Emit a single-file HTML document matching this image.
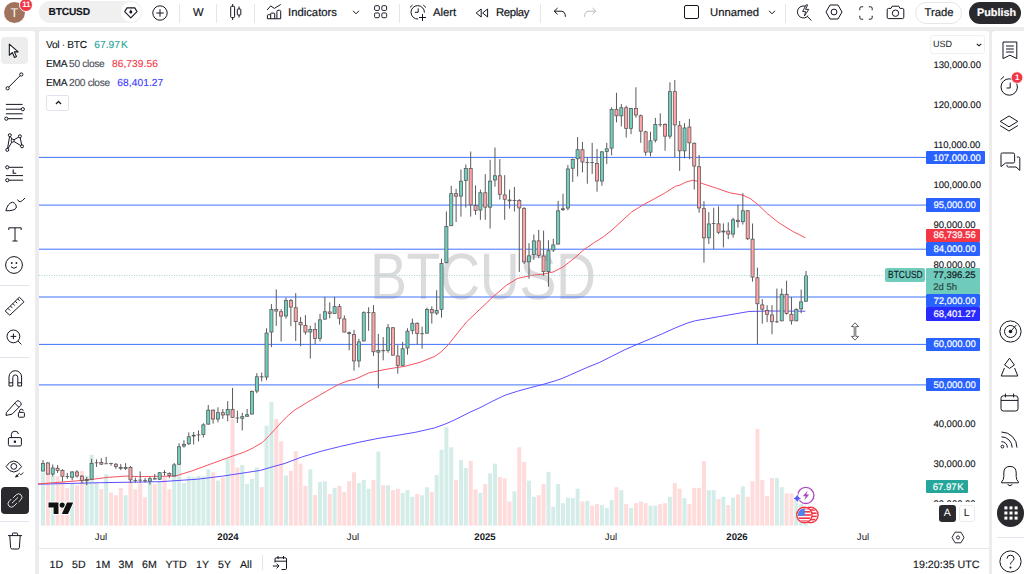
<!DOCTYPE html>
<html><head><meta charset="utf-8">
<style>
*{box-sizing:border-box;margin:0;padding:0}
html,body{width:1024px;height:574px;overflow:hidden}
body{text-rendering:geometricPrecision;background:#ececec;font-family:"Liberation Sans",sans-serif;color:#131722;position:relative}
.abs{position:absolute}
#top{left:0;top:0;width:1024px;height:26.8px;background:#fff}
#left{left:0;top:30.8px;width:35.3px;height:544px;background:#fff;border-top-right-radius:3px}
#chart{left:39px;top:30.8px;width:949.5px;height:544px;background:#fff;border-top-left-radius:3px;border-top-right-radius:3px}
#right{left:991.6px;top:30.8px;width:33px;height:544px;background:#fff;border-top-left-radius:3px}
.t{position:absolute;white-space:nowrap;line-height:1}
.tb{font-size:11.3px;color:#131722;-webkit-text-stroke:0.2px currentColor;margin-top:1.2px}
.sep{position:absolute;width:1px;background:#e6e6e8;top:3.5px;height:19px}
.pl{position:absolute;left:926.2px;width:53.6px;height:13.6px;color:#fff;font-size:9.5px;line-height:16px;padding-left:7px;-webkit-text-stroke:0.2px currentColor;border-radius:1px}
.pt{-webkit-text-stroke:0.15px #131722;position:absolute;left:933.4px;font-size:9.5px;line-height:1;color:#131722}
.lg{font-size:10.2px;letter-spacing:-0.32px;-webkit-text-stroke:0.12px currentColor}
.lg .v{margin-left:7.5px;letter-spacing:0.08px}
.tx{position:absolute;font-size:9.6px;line-height:1;color:#131722;transform:translateX(-50%);top:532.6px}
.bb{position:absolute;font-size:10.6px;line-height:1;top:559.9px;-webkit-text-stroke:0.15px #131722;color:#131722}
svg{position:absolute;overflow:visible}
#wrap{position:absolute;left:0;top:0;width:1024px;height:574px;}
</style></head><body><div id="wrap">
<div id="top" class="abs"></div>
<div id="left" class="abs"></div>
<div id="chart" class="abs"></div>
<div id="right" class="abs"></div>

<!-- watermark -->
<div class="t" style="left:369.5px;top:244px;font-size:65.7px;color:#dbdbde;letter-spacing:-0.5px;transform-origin:0 0;transform:scaleX(0.845)">BTCUSD</div>

<svg width="1024" height="574" style="left:0;top:0" viewBox="0 0 1024 574">
<rect x="41.00" y="472.4" width="4.0" height="53.2" fill="#d4ede9"/>
<rect x="45.86" y="473.9" width="4.0" height="51.7" fill="#fddcdb"/>
<rect x="50.72" y="475.8" width="4.0" height="49.8" fill="#d4ede9"/>
<rect x="55.58" y="476.4" width="4.0" height="49.2" fill="#fddcdb"/>
<rect x="60.44" y="481.2" width="4.0" height="44.4" fill="#fddcdb"/>
<rect x="65.30" y="488.0" width="4.0" height="37.6" fill="#fddcdb"/>
<rect x="70.16" y="483.3" width="4.0" height="42.3" fill="#d4ede9"/>
<rect x="75.02" y="485.2" width="4.0" height="40.4" fill="#fddcdb"/>
<rect x="79.88" y="470.8" width="4.0" height="54.8" fill="#fddcdb"/>
<rect x="84.74" y="475.8" width="4.0" height="49.8" fill="#d4ede9"/>
<rect x="89.60" y="454.8" width="4.0" height="70.8" fill="#d4ede9"/>
<rect x="94.46" y="482.7" width="4.0" height="42.9" fill="#d4ede9"/>
<rect x="99.32" y="489.2" width="4.0" height="36.4" fill="#fddcdb"/>
<rect x="104.18" y="474.2" width="4.0" height="51.4" fill="#d4ede9"/>
<rect x="109.04" y="492.5" width="4.0" height="33.1" fill="#fddcdb"/>
<rect x="113.90" y="495.2" width="4.0" height="30.4" fill="#fddcdb"/>
<rect x="118.76" y="488.0" width="4.0" height="37.6" fill="#fddcdb"/>
<rect x="123.62" y="495.2" width="4.0" height="30.4" fill="#d4ede9"/>
<rect x="128.48" y="481.4" width="4.0" height="44.2" fill="#fddcdb"/>
<rect x="133.34" y="489.2" width="4.0" height="36.4" fill="#fddcdb"/>
<rect x="138.20" y="483.3" width="4.0" height="42.3" fill="#fddcdb"/>
<rect x="143.06" y="497.5" width="4.0" height="28.1" fill="#fddcdb"/>
<rect x="147.92" y="482.7" width="4.0" height="42.9" fill="#d4ede9"/>
<rect x="152.78" y="484.2" width="4.0" height="41.4" fill="#fddcdb"/>
<rect x="157.64" y="481.4" width="4.0" height="44.2" fill="#d4ede9"/>
<rect x="162.50" y="476.7" width="4.0" height="48.9" fill="#fddcdb"/>
<rect x="167.36" y="489.2" width="4.0" height="36.4" fill="#fddcdb"/>
<rect x="172.22" y="476.0" width="4.0" height="49.6" fill="#d4ede9"/>
<rect x="177.08" y="464.8" width="4.0" height="60.8" fill="#d4ede9"/>
<rect x="181.94" y="483.0" width="4.0" height="42.6" fill="#d4ede9"/>
<rect x="186.80" y="476.3" width="4.0" height="49.3" fill="#d4ede9"/>
<rect x="191.66" y="477.3" width="4.0" height="48.3" fill="#d4ede9"/>
<rect x="196.52" y="475.8" width="4.0" height="49.8" fill="#d4ede9"/>
<rect x="201.38" y="476.3" width="4.0" height="49.3" fill="#d4ede9"/>
<rect x="206.24" y="469.2" width="4.0" height="56.4" fill="#d4ede9"/>
<rect x="211.10" y="472.3" width="4.0" height="53.3" fill="#fddcdb"/>
<rect x="215.96" y="480.5" width="4.0" height="45.1" fill="#d4ede9"/>
<rect x="220.82" y="477.3" width="4.0" height="48.3" fill="#fddcdb"/>
<rect x="225.68" y="458.8" width="4.0" height="66.8" fill="#d4ede9"/>
<rect x="230.54" y="418.8" width="4.0" height="106.8" fill="#fddcdb"/>
<rect x="235.40" y="467.5" width="4.0" height="58.1" fill="#fddcdb"/>
<rect x="240.26" y="465.0" width="4.0" height="60.6" fill="#d4ede9"/>
<rect x="245.12" y="483.9" width="4.0" height="41.7" fill="#d4ede9"/>
<rect x="249.98" y="478.8" width="4.0" height="46.8" fill="#d4ede9"/>
<rect x="254.84" y="467.5" width="4.0" height="58.1" fill="#d4ede9"/>
<rect x="259.70" y="487.1" width="4.0" height="38.5" fill="#fddcdb"/>
<rect x="264.56" y="425.7" width="4.0" height="99.9" fill="#d4ede9"/>
<rect x="269.42" y="401.9" width="4.0" height="123.7" fill="#d4ede9"/>
<rect x="274.28" y="419.1" width="4.0" height="106.5" fill="#fddcdb"/>
<rect x="279.14" y="441.2" width="4.0" height="84.4" fill="#fddcdb"/>
<rect x="284.00" y="475.5" width="4.0" height="50.1" fill="#d4ede9"/>
<rect x="288.86" y="470.8" width="4.0" height="54.8" fill="#fddcdb"/>
<rect x="293.72" y="451.1" width="4.0" height="74.5" fill="#fddcdb"/>
<rect x="298.58" y="463.7" width="4.0" height="61.9" fill="#fddcdb"/>
<rect x="303.44" y="485.9" width="4.0" height="39.7" fill="#fddcdb"/>
<rect x="308.30" y="469.3" width="4.0" height="56.3" fill="#d4ede9"/>
<rect x="313.16" y="494.9" width="4.0" height="30.7" fill="#fddcdb"/>
<rect x="318.02" y="482.1" width="4.0" height="43.5" fill="#d4ede9"/>
<rect x="322.88" y="481.2" width="4.0" height="44.4" fill="#d4ede9"/>
<rect x="327.74" y="494.0" width="4.0" height="31.6" fill="#fddcdb"/>
<rect x="332.60" y="487.8" width="4.0" height="37.8" fill="#d4ede9"/>
<rect x="337.46" y="485.9" width="4.0" height="39.7" fill="#fddcdb"/>
<rect x="342.32" y="491.9" width="4.0" height="33.7" fill="#fddcdb"/>
<rect x="347.18" y="481.2" width="4.0" height="44.4" fill="#fddcdb"/>
<rect x="352.04" y="472.3" width="4.0" height="53.3" fill="#fddcdb"/>
<rect x="356.90" y="483.1" width="4.0" height="42.5" fill="#d4ede9"/>
<rect x="361.76" y="479.9" width="4.0" height="45.7" fill="#d4ede9"/>
<rect x="366.62" y="488.7" width="4.0" height="36.9" fill="#d4ede9"/>
<rect x="371.48" y="479.9" width="4.0" height="45.7" fill="#fddcdb"/>
<rect x="376.34" y="451.6" width="4.0" height="74.0" fill="#d4ede9"/>
<rect x="381.20" y="485.3" width="4.0" height="40.3" fill="#fddcdb"/>
<rect x="386.06" y="485.3" width="4.0" height="40.3" fill="#d4ede9"/>
<rect x="390.92" y="490.0" width="4.0" height="35.6" fill="#fddcdb"/>
<rect x="395.78" y="488.7" width="4.0" height="36.9" fill="#fddcdb"/>
<rect x="400.64" y="493.0" width="4.0" height="32.6" fill="#d4ede9"/>
<rect x="405.50" y="490.2" width="4.0" height="35.4" fill="#d4ede9"/>
<rect x="410.36" y="496.8" width="4.0" height="28.8" fill="#d4ede9"/>
<rect x="415.22" y="494.0" width="4.0" height="31.6" fill="#fddcdb"/>
<rect x="420.08" y="495.3" width="4.0" height="30.3" fill="#d4ede9"/>
<rect x="424.94" y="487.2" width="4.0" height="38.4" fill="#d4ede9"/>
<rect x="429.80" y="491.9" width="4.0" height="33.7" fill="#fddcdb"/>
<rect x="434.66" y="475.0" width="4.0" height="50.6" fill="#d4ede9"/>
<rect x="439.52" y="449.7" width="4.0" height="75.9" fill="#d4ede9"/>
<rect x="444.38" y="427.2" width="4.0" height="98.4" fill="#d4ede9"/>
<rect x="449.24" y="447.3" width="4.0" height="78.3" fill="#d4ede9"/>
<rect x="454.10" y="479.9" width="4.0" height="45.7" fill="#fddcdb"/>
<rect x="458.96" y="460.1" width="4.0" height="65.5" fill="#d4ede9"/>
<rect x="463.82" y="468.0" width="4.0" height="57.6" fill="#d4ede9"/>
<rect x="468.68" y="461.0" width="4.0" height="64.6" fill="#fddcdb"/>
<rect x="473.54" y="489.3" width="4.0" height="36.3" fill="#fddcdb"/>
<rect x="478.40" y="492.8" width="4.0" height="32.8" fill="#d4ede9"/>
<rect x="483.26" y="484.0" width="4.0" height="41.6" fill="#fddcdb"/>
<rect x="488.12" y="473.3" width="4.0" height="52.3" fill="#d4ede9"/>
<rect x="492.98" y="463.7" width="4.0" height="61.9" fill="#d4ede9"/>
<rect x="497.84" y="477.0" width="4.0" height="48.6" fill="#fddcdb"/>
<rect x="502.70" y="478.4" width="4.0" height="47.2" fill="#fddcdb"/>
<rect x="507.56" y="501.5" width="4.0" height="24.1" fill="#fddcdb"/>
<rect x="512.42" y="491.2" width="4.0" height="34.4" fill="#d4ede9"/>
<rect x="517.28" y="447.3" width="4.0" height="78.3" fill="#fddcdb"/>
<rect x="522.14" y="461.8" width="4.0" height="63.8" fill="#fddcdb"/>
<rect x="527.00" y="480.6" width="4.0" height="45.0" fill="#d4ede9"/>
<rect x="531.86" y="496.8" width="4.0" height="28.8" fill="#d4ede9"/>
<rect x="536.72" y="495.3" width="4.0" height="30.3" fill="#fddcdb"/>
<rect x="541.58" y="484.0" width="4.0" height="41.6" fill="#fddcdb"/>
<rect x="546.44" y="471.8" width="4.0" height="53.8" fill="#d4ede9"/>
<rect x="551.30" y="506.6" width="4.0" height="19.0" fill="#d4ede9"/>
<rect x="556.16" y="484.0" width="4.0" height="41.6" fill="#d4ede9"/>
<rect x="561.02" y="503.2" width="4.0" height="22.4" fill="#d4ede9"/>
<rect x="565.88" y="497.6" width="4.0" height="28.0" fill="#d4ede9"/>
<rect x="570.74" y="498.1" width="4.0" height="27.5" fill="#d4ede9"/>
<rect x="575.60" y="488.7" width="4.0" height="36.9" fill="#d4ede9"/>
<rect x="580.46" y="501.5" width="4.0" height="24.1" fill="#fddcdb"/>
<rect x="585.32" y="500.9" width="4.0" height="24.7" fill="#d4ede9"/>
<rect x="590.18" y="505.6" width="4.0" height="20.0" fill="#fddcdb"/>
<rect x="595.04" y="504.1" width="4.0" height="21.5" fill="#fddcdb"/>
<rect x="599.90" y="505.1" width="4.0" height="20.5" fill="#d4ede9"/>
<rect x="604.76" y="508.1" width="4.0" height="17.5" fill="#d4ede9"/>
<rect x="609.62" y="500.0" width="4.0" height="25.6" fill="#d4ede9"/>
<rect x="614.48" y="487.2" width="4.0" height="38.4" fill="#fddcdb"/>
<rect x="619.34" y="490.2" width="4.0" height="35.4" fill="#d4ede9"/>
<rect x="624.20" y="504.1" width="4.0" height="21.5" fill="#fddcdb"/>
<rect x="629.06" y="508.1" width="4.0" height="17.5" fill="#d4ede9"/>
<rect x="633.92" y="503.2" width="4.0" height="22.4" fill="#fddcdb"/>
<rect x="638.78" y="501.5" width="4.0" height="24.1" fill="#fddcdb"/>
<rect x="643.64" y="503.2" width="4.0" height="22.4" fill="#fddcdb"/>
<rect x="648.50" y="505.6" width="4.0" height="20.0" fill="#d4ede9"/>
<rect x="653.36" y="505.6" width="4.0" height="20.0" fill="#d4ede9"/>
<rect x="658.22" y="504.1" width="4.0" height="21.5" fill="#fddcdb"/>
<rect x="663.08" y="503.2" width="4.0" height="22.4" fill="#fddcdb"/>
<rect x="667.94" y="496.8" width="4.0" height="28.8" fill="#d4ede9"/>
<rect x="672.80" y="483.1" width="4.0" height="42.5" fill="#fddcdb"/>
<rect x="677.66" y="488.7" width="4.0" height="36.9" fill="#fddcdb"/>
<rect x="682.52" y="498.1" width="4.0" height="27.5" fill="#d4ede9"/>
<rect x="687.38" y="504.1" width="4.0" height="21.5" fill="#fddcdb"/>
<rect x="692.24" y="487.8" width="4.0" height="37.8" fill="#fddcdb"/>
<rect x="697.10" y="487.8" width="4.0" height="37.8" fill="#fddcdb"/>
<rect x="701.96" y="461.0" width="4.0" height="64.6" fill="#fddcdb"/>
<rect x="706.82" y="490.2" width="4.0" height="35.4" fill="#d4ede9"/>
<rect x="711.68" y="490.2" width="4.0" height="35.4" fill="#d4ede9"/>
<rect x="716.54" y="499.1" width="4.0" height="26.5" fill="#fddcdb"/>
<rect x="721.40" y="496.8" width="4.0" height="28.8" fill="#d4ede9"/>
<rect x="726.26" y="505.1" width="4.0" height="20.5" fill="#fddcdb"/>
<rect x="731.12" y="497.6" width="4.0" height="28.0" fill="#d4ede9"/>
<rect x="735.98" y="494.4" width="4.0" height="31.2" fill="#fddcdb"/>
<rect x="740.84" y="486.3" width="4.0" height="39.3" fill="#d4ede9"/>
<rect x="745.70" y="496.8" width="4.0" height="28.8" fill="#fddcdb"/>
<rect x="750.56" y="481.2" width="4.0" height="44.4" fill="#fddcdb"/>
<rect x="755.42" y="429.0" width="4.0" height="96.6" fill="#fddcdb"/>
<rect x="760.28" y="479.9" width="4.0" height="45.7" fill="#fddcdb"/>
<rect x="765.14" y="495.9" width="4.0" height="29.7" fill="#fddcdb"/>
<rect x="770.00" y="478.0" width="4.0" height="47.6" fill="#fddcdb"/>
<rect x="774.86" y="478.0" width="4.0" height="47.6" fill="#d4ede9"/>
<rect x="779.72" y="487.2" width="4.0" height="38.4" fill="#d4ede9"/>
<rect x="784.58" y="493.4" width="4.0" height="32.2" fill="#fddcdb"/>
<rect x="789.44" y="493.4" width="4.0" height="32.2" fill="#fddcdb"/>
<rect x="794.30" y="498.0" width="4.0" height="27.6" fill="#d4ede9"/>
<rect x="799.16" y="504.0" width="4.0" height="21.6" fill="#d4ede9"/>
<rect x="804.02" y="520.0" width="4.0" height="5.6" fill="#d4ede9"/>
<line x1="39" x2="926" y1="157.40" y2="157.40" stroke="#2962ff" stroke-width="0.9"/>
<line x1="39" x2="926" y1="205.10" y2="205.10" stroke="#2962ff" stroke-width="0.9"/>
<line x1="39" x2="926" y1="249.20" y2="249.20" stroke="#2962ff" stroke-width="0.9"/>
<line x1="39" x2="926" y1="297.00" y2="297.00" stroke="#2962ff" stroke-width="0.9"/>
<line x1="39" x2="926" y1="344.40" y2="344.40" stroke="#2962ff" stroke-width="0.9"/>
<line x1="39" x2="926" y1="384.90" y2="384.90" stroke="#2962ff" stroke-width="0.9"/>
<path d="M38.0,484.2 L100.7,482.7 L160.0,481.7 L197.6,479.2 L222.7,476.1 L247.8,472.3 L260.4,470.4 L272.9,466.7 L284.0,463.7 L302.8,456.7 L321.6,451.1 L340.5,446.4 L359.3,442.2 L378.1,438.4 L396.9,435.4 L415.8,432.2 L434.6,427.9 L445.9,423.8 L454.4,420.0 L470.4,412.0 L480.0,407.7 L492.5,401.2 L505.1,395.2 L517.6,391.2 L530.2,387.7 L542.7,384.5 L555.3,380.8 L562.8,378.2 L574.1,373.2 L586.7,367.6 L599.2,362.6 L612.5,355.9 L625.1,349.6 L637.6,344.2 L650.2,338.9 L662.7,333.6 L675.3,327.9 L687.8,322.9 L695.4,320.7 L706.7,318.8 L719.2,316.6 L728.0,315.1 L748.8,311.5 L770.0,311.0 L805.3,311.2" fill="none" stroke="#5545ff" stroke-width="0.95" stroke-linejoin="round"/>
<path d="M38.0,483.9 L63.1,482.0 L88.2,479.9 L107.0,477.4 L125.8,476.1 L138.4,476.6 L160.0,476.3 L175.0,476.1 L191.4,471.1 L210.2,464.2 L232.8,456.0 L244.5,452.0 L253.3,447.8 L262.1,442.7 L269.6,435.2 L275.9,428.3 L282.2,421.4 L288.5,415.1 L294.7,410.1 L307.3,402.3 L319.8,395.1 L332.4,387.8 L338.7,384.4 L347.4,381.0 L355.4,379.1 L368.8,372.9 L385.0,369.5 L397.6,367.4 L405.0,366.3 L420.0,362.3 L435.0,356.3 L441.0,351.9 L448.5,344.6 L452.0,340.0 L466.5,322.0 L492.8,297.0 L506.5,285.2 L517.8,278.3 L531.6,275.4 L544.2,273.9 L553.0,272.0 L563.0,267.0 L574.3,258.2 L584.3,249.4 L594.4,242.5 L603.2,236.9 L612.0,230.0 L631.6,212.0 L642.8,205.0 L654.1,199.0 L665.4,192.7 L675.5,186.2 L680.0,185.1 L686.0,182.0 L692.5,180.3 L697.0,181.0 L701.3,183.2 L717.6,188.6 L730.2,192.9 L742.7,195.1 L750.3,198.6 L757.8,204.5 L767.8,214.0 L777.9,222.1 L792.9,231.5 L805.4,237.8" fill="none" stroke="#f7525f" stroke-width="1" stroke-linejoin="round"/>
<line x1="43.00" x2="43.00" y1="460.1" y2="471.4" stroke="#5a5a5a" stroke-width="1"/>
<rect x="41.45" y="463.35" width="3.1" height="7.70" fill="#6fd0bf" stroke="#555555" stroke-width="0.75"/>
<line x1="47.86" x2="47.86" y1="462.0" y2="474.9" stroke="#5a5a5a" stroke-width="1"/>
<rect x="46.31" y="462.95" width="3.1" height="11.20" fill="#ffa4a7" stroke="#555555" stroke-width="0.75"/>
<line x1="52.72" x2="52.72" y1="464.5" y2="476.4" stroke="#5a5a5a" stroke-width="1"/>
<rect x="51.17" y="467.95" width="3.1" height="6.20" fill="#6fd0bf" stroke="#555555" stroke-width="0.75"/>
<line x1="57.58" x2="57.58" y1="465.1" y2="472.9" stroke="#5a5a5a" stroke-width="1"/>
<rect x="56.03" y="468.25" width="3.1" height="2.10" fill="#ffa4a7" stroke="#555555" stroke-width="0.75"/>
<line x1="62.44" x2="62.44" y1="469.1" y2="481.4" stroke="#5a5a5a" stroke-width="1"/>
<rect x="60.89" y="470.45" width="3.1" height="5.80" fill="#ffa4a7" stroke="#555555" stroke-width="0.75"/>
<line x1="67.30" x2="67.30" y1="472.9" y2="478.9" stroke="#5a5a5a" stroke-width="1"/>
<rect x="65.40" y="476.2" width="3.8" height="0.8" fill="#555555"/>
<line x1="72.16" x2="72.16" y1="471.1" y2="480.4" stroke="#5a5a5a" stroke-width="1"/>
<rect x="70.61" y="471.95" width="3.1" height="5.30" fill="#6fd0bf" stroke="#555555" stroke-width="0.75"/>
<line x1="77.02" x2="77.02" y1="470.1" y2="477.6" stroke="#5a5a5a" stroke-width="1"/>
<rect x="75.47" y="471.95" width="3.1" height="4.10" fill="#ffa4a7" stroke="#555555" stroke-width="0.75"/>
<line x1="81.88" x2="81.88" y1="475.1" y2="483.3" stroke="#5a5a5a" stroke-width="1"/>
<rect x="80.33" y="476.15" width="3.1" height="4.30" fill="#ffa4a7" stroke="#555555" stroke-width="0.75"/>
<line x1="86.74" x2="86.74" y1="477.0" y2="485.2" stroke="#5a5a5a" stroke-width="1"/>
<rect x="85.19" y="479.45" width="3.1" height="1.00" fill="#6fd0bf" stroke="#555555" stroke-width="0.75"/>
<line x1="91.60" x2="91.60" y1="458.8" y2="479.5" stroke="#5a5a5a" stroke-width="1"/>
<rect x="90.05" y="463.35" width="3.1" height="15.80" fill="#6fd0bf" stroke="#555555" stroke-width="0.75"/>
<line x1="96.46" x2="96.46" y1="459.4" y2="467.0" stroke="#5a5a5a" stroke-width="1"/>
<rect x="94.56" y="462.4" width="3.8" height="0.8" fill="#555555"/>
<line x1="101.32" x2="101.32" y1="458.2" y2="465.1" stroke="#5a5a5a" stroke-width="1"/>
<rect x="99.77" y="462.35" width="3.1" height="1.80" fill="#ffa4a7" stroke="#555555" stroke-width="0.75"/>
<line x1="106.18" x2="106.18" y1="456.9" y2="464.0" stroke="#5a5a5a" stroke-width="1"/>
<rect x="104.28" y="463.4" width="3.8" height="0.8" fill="#555555"/>
<line x1="111.04" x2="111.04" y1="462.8" y2="465.7" stroke="#5a5a5a" stroke-width="1"/>
<rect x="109.14" y="463.2" width="3.8" height="0.8" fill="#555555"/>
<line x1="115.90" x2="115.90" y1="463.2" y2="468.9" stroke="#5a5a5a" stroke-width="1"/>
<rect x="114.35" y="464.15" width="3.1" height="2.50" fill="#ffa4a7" stroke="#555555" stroke-width="0.75"/>
<line x1="120.76" x2="120.76" y1="464.1" y2="470.1" stroke="#5a5a5a" stroke-width="1"/>
<rect x="119.21" y="467.35" width="3.1" height="0.90" fill="#ffa4a7" stroke="#555555" stroke-width="0.75"/>
<line x1="125.62" x2="125.62" y1="463.2" y2="470.1" stroke="#5a5a5a" stroke-width="1"/>
<rect x="124.07" y="467.35" width="3.1" height="1.20" fill="#6fd0bf" stroke="#555555" stroke-width="0.75"/>
<line x1="130.48" x2="130.48" y1="466.1" y2="482.7" stroke="#5a5a5a" stroke-width="1"/>
<rect x="128.93" y="467.35" width="3.1" height="12.50" fill="#ffa4a7" stroke="#555555" stroke-width="0.75"/>
<line x1="135.34" x2="135.34" y1="477.6" y2="482.7" stroke="#5a5a5a" stroke-width="1"/>
<rect x="133.44" y="480.0" width="3.8" height="0.8" fill="#555555"/>
<line x1="140.20" x2="140.20" y1="471.4" y2="482.7" stroke="#5a5a5a" stroke-width="1"/>
<rect x="138.30" y="479.7" width="3.8" height="0.8" fill="#555555"/>
<line x1="145.06" x2="145.06" y1="478.0" y2="482.7" stroke="#5a5a5a" stroke-width="1"/>
<rect x="143.16" y="480.2" width="3.8" height="0.8" fill="#555555"/>
<line x1="149.92" x2="149.92" y1="476.8" y2="484.6" stroke="#5a5a5a" stroke-width="1"/>
<rect x="148.37" y="478.65" width="3.1" height="2.50" fill="#6fd0bf" stroke="#555555" stroke-width="0.75"/>
<line x1="154.78" x2="154.78" y1="474.0" y2="479.5" stroke="#5a5a5a" stroke-width="1"/>
<rect x="152.88" y="478.2" width="3.8" height="1.2" fill="#555555"/>
<line x1="159.64" x2="159.64" y1="472.0" y2="480.0" stroke="#5a5a5a" stroke-width="1"/>
<rect x="158.09" y="472.75" width="3.1" height="6.50" fill="#6fd0bf" stroke="#555555" stroke-width="0.75"/>
<line x1="164.50" x2="164.50" y1="470.2" y2="475.5" stroke="#5a5a5a" stroke-width="1"/>
<rect x="162.60" y="472.1" width="3.8" height="0.8" fill="#555555"/>
<line x1="169.36" x2="169.36" y1="472.4" y2="477.7" stroke="#5a5a5a" stroke-width="1"/>
<rect x="167.81" y="473.35" width="3.1" height="2.10" fill="#ffa4a7" stroke="#555555" stroke-width="0.75"/>
<line x1="174.22" x2="174.22" y1="463.0" y2="476.4" stroke="#5a5a5a" stroke-width="1"/>
<rect x="172.67" y="464.85" width="3.1" height="11.00" fill="#6fd0bf" stroke="#555555" stroke-width="0.75"/>
<line x1="179.08" x2="179.08" y1="443.3" y2="464.6" stroke="#5a5a5a" stroke-width="1"/>
<rect x="177.53" y="446.75" width="3.1" height="17.50" fill="#6fd0bf" stroke="#555555" stroke-width="0.75"/>
<line x1="183.94" x2="183.94" y1="440.2" y2="447.7" stroke="#5a5a5a" stroke-width="1"/>
<rect x="182.39" y="444.55" width="3.1" height="1.50" fill="#6fd0bf" stroke="#555555" stroke-width="0.75"/>
<line x1="188.80" x2="188.80" y1="432.4" y2="444.9" stroke="#5a5a5a" stroke-width="1"/>
<rect x="187.25" y="436.75" width="3.1" height="7.10" fill="#6fd0bf" stroke="#555555" stroke-width="0.75"/>
<line x1="193.66" x2="193.66" y1="432.0" y2="444.5" stroke="#5a5a5a" stroke-width="1"/>
<rect x="192.11" y="435.25" width="3.1" height="0.80" fill="#6fd0bf" stroke="#555555" stroke-width="0.75"/>
<line x1="198.52" x2="198.52" y1="430.4" y2="441.4" stroke="#5a5a5a" stroke-width="1"/>
<rect x="196.62" y="434.5" width="3.8" height="0.8" fill="#555555"/>
<line x1="203.38" x2="203.38" y1="423.2" y2="437.4" stroke="#5a5a5a" stroke-width="1"/>
<rect x="201.83" y="424.85" width="3.1" height="9.70" fill="#6fd0bf" stroke="#555555" stroke-width="0.75"/>
<line x1="208.24" x2="208.24" y1="405.0" y2="424.5" stroke="#5a5a5a" stroke-width="1"/>
<rect x="206.69" y="410.15" width="3.1" height="14.00" fill="#6fd0bf" stroke="#555555" stroke-width="0.75"/>
<line x1="213.10" x2="213.10" y1="409.4" y2="423.6" stroke="#5a5a5a" stroke-width="1"/>
<rect x="211.55" y="410.15" width="3.1" height="8.90" fill="#ffa4a7" stroke="#555555" stroke-width="0.75"/>
<line x1="217.96" x2="217.96" y1="407.3" y2="422.3" stroke="#5a5a5a" stroke-width="1"/>
<rect x="216.41" y="412.65" width="3.1" height="6.40" fill="#6fd0bf" stroke="#555555" stroke-width="0.75"/>
<line x1="222.82" x2="222.82" y1="409.0" y2="418.8" stroke="#5a5a5a" stroke-width="1"/>
<rect x="221.27" y="412.65" width="3.1" height="2.30" fill="#ffa4a7" stroke="#555555" stroke-width="0.75"/>
<line x1="227.68" x2="227.68" y1="401.1" y2="421.3" stroke="#5a5a5a" stroke-width="1"/>
<rect x="226.13" y="409.35" width="3.1" height="5.60" fill="#6fd0bf" stroke="#555555" stroke-width="0.75"/>
<line x1="232.54" x2="232.54" y1="387.9" y2="417.8" stroke="#5a5a5a" stroke-width="1"/>
<rect x="230.99" y="409.35" width="3.1" height="8.10" fill="#ffa4a7" stroke="#555555" stroke-width="0.75"/>
<line x1="237.40" x2="237.40" y1="410.7" y2="423.0" stroke="#5a5a5a" stroke-width="1"/>
<rect x="235.50" y="417.6" width="3.8" height="0.8" fill="#555555"/>
<line x1="242.26" x2="242.26" y1="412.8" y2="430.4" stroke="#5a5a5a" stroke-width="1"/>
<rect x="240.71" y="416.65" width="3.1" height="1.60" fill="#6fd0bf" stroke="#555555" stroke-width="0.75"/>
<line x1="247.12" x2="247.12" y1="409.0" y2="416.9" stroke="#5a5a5a" stroke-width="1"/>
<rect x="245.57" y="414.75" width="3.1" height="1.50" fill="#6fd0bf" stroke="#555555" stroke-width="0.75"/>
<line x1="251.98" x2="251.98" y1="390.4" y2="414.6" stroke="#5a5a5a" stroke-width="1"/>
<rect x="250.43" y="391.45" width="3.1" height="22.60" fill="#6fd0bf" stroke="#555555" stroke-width="0.75"/>
<line x1="256.84" x2="256.84" y1="373.2" y2="393.3" stroke="#5a5a5a" stroke-width="1"/>
<rect x="255.29" y="376.75" width="3.1" height="14.30" fill="#6fd0bf" stroke="#555555" stroke-width="0.75"/>
<line x1="261.70" x2="261.70" y1="372.6" y2="381.4" stroke="#5a5a5a" stroke-width="1"/>
<rect x="259.80" y="376.4" width="3.8" height="0.9" fill="#555555"/>
<line x1="266.56" x2="266.56" y1="328.3" y2="380.2" stroke="#5a5a5a" stroke-width="1"/>
<rect x="265.01" y="333.05" width="3.1" height="44.00" fill="#6fd0bf" stroke="#555555" stroke-width="0.75"/>
<line x1="271.42" x2="271.42" y1="304.1" y2="347.1" stroke="#5a5a5a" stroke-width="1"/>
<rect x="269.87" y="309.45" width="3.1" height="22.60" fill="#6fd0bf" stroke="#555555" stroke-width="0.75"/>
<line x1="276.28" x2="276.28" y1="289.4" y2="325.8" stroke="#5a5a5a" stroke-width="1"/>
<rect x="274.73" y="309.45" width="3.1" height="1.60" fill="#ffa4a7" stroke="#555555" stroke-width="0.75"/>
<line x1="281.14" x2="281.14" y1="309.1" y2="341.5" stroke="#5a5a5a" stroke-width="1"/>
<rect x="279.59" y="311.75" width="3.1" height="4.30" fill="#ffa4a7" stroke="#555555" stroke-width="0.75"/>
<line x1="286.00" x2="286.00" y1="297.6" y2="318.6" stroke="#5a5a5a" stroke-width="1"/>
<rect x="284.45" y="300.45" width="3.1" height="15.60" fill="#6fd0bf" stroke="#555555" stroke-width="0.75"/>
<line x1="290.86" x2="290.86" y1="299.1" y2="326.2" stroke="#5a5a5a" stroke-width="1"/>
<rect x="289.31" y="300.45" width="3.1" height="6.60" fill="#ffa4a7" stroke="#555555" stroke-width="0.75"/>
<line x1="295.72" x2="295.72" y1="293.2" y2="340.9" stroke="#5a5a5a" stroke-width="1"/>
<rect x="294.17" y="307.75" width="3.1" height="13.90" fill="#ffa4a7" stroke="#555555" stroke-width="0.75"/>
<line x1="300.58" x2="300.58" y1="317.0" y2="346.2" stroke="#5a5a5a" stroke-width="1"/>
<rect x="299.03" y="322.35" width="3.1" height="2.50" fill="#ffa4a7" stroke="#555555" stroke-width="0.75"/>
<line x1="305.44" x2="305.44" y1="315.1" y2="334.6" stroke="#5a5a5a" stroke-width="1"/>
<rect x="303.89" y="325.55" width="3.1" height="6.50" fill="#ffa4a7" stroke="#555555" stroke-width="0.75"/>
<line x1="310.30" x2="310.30" y1="325.8" y2="358.6" stroke="#5a5a5a" stroke-width="1"/>
<rect x="308.75" y="329.55" width="3.1" height="2.50" fill="#6fd0bf" stroke="#555555" stroke-width="0.75"/>
<line x1="315.16" x2="315.16" y1="322.7" y2="344.0" stroke="#5a5a5a" stroke-width="1"/>
<rect x="313.61" y="329.55" width="3.1" height="8.80" fill="#ffa4a7" stroke="#555555" stroke-width="0.75"/>
<line x1="320.02" x2="320.02" y1="313.9" y2="341.5" stroke="#5a5a5a" stroke-width="1"/>
<rect x="318.47" y="319.85" width="3.1" height="18.50" fill="#6fd0bf" stroke="#555555" stroke-width="0.75"/>
<line x1="324.88" x2="324.88" y1="296.9" y2="319.5" stroke="#5a5a5a" stroke-width="1"/>
<rect x="323.33" y="311.75" width="3.1" height="7.40" fill="#6fd0bf" stroke="#555555" stroke-width="0.75"/>
<line x1="329.74" x2="329.74" y1="302.3" y2="318.3" stroke="#5a5a5a" stroke-width="1"/>
<rect x="328.19" y="311.95" width="3.1" height="1.60" fill="#ffa4a7" stroke="#555555" stroke-width="0.75"/>
<line x1="334.60" x2="334.60" y1="296.9" y2="313.9" stroke="#5a5a5a" stroke-width="1"/>
<rect x="333.05" y="306.65" width="3.1" height="6.90" fill="#6fd0bf" stroke="#555555" stroke-width="0.75"/>
<line x1="339.46" x2="339.46" y1="304.1" y2="324.5" stroke="#5a5a5a" stroke-width="1"/>
<rect x="337.91" y="306.65" width="3.1" height="11.60" fill="#ffa4a7" stroke="#555555" stroke-width="0.75"/>
<line x1="344.32" x2="344.32" y1="315.4" y2="332.4" stroke="#5a5a5a" stroke-width="1"/>
<rect x="342.77" y="318.95" width="3.1" height="13.10" fill="#ffa4a7" stroke="#555555" stroke-width="0.75"/>
<line x1="349.18" x2="349.18" y1="331.4" y2="350.3" stroke="#5a5a5a" stroke-width="1"/>
<rect x="347.63" y="332.75" width="3.1" height="0.90" fill="#ffa4a7" stroke="#555555" stroke-width="0.75"/>
<line x1="354.04" x2="354.04" y1="329.9" y2="370.7" stroke="#5a5a5a" stroke-width="1"/>
<rect x="352.49" y="334.55" width="3.1" height="26.40" fill="#ffa4a7" stroke="#555555" stroke-width="0.75"/>
<line x1="358.90" x2="358.90" y1="338.7" y2="367.4" stroke="#5a5a5a" stroke-width="1"/>
<rect x="357.35" y="341.85" width="3.1" height="19.10" fill="#6fd0bf" stroke="#555555" stroke-width="0.75"/>
<line x1="363.76" x2="363.76" y1="311.3" y2="341.5" stroke="#5a5a5a" stroke-width="1"/>
<rect x="362.21" y="312.65" width="3.1" height="28.30" fill="#6fd0bf" stroke="#555555" stroke-width="0.75"/>
<line x1="368.62" x2="368.62" y1="307.3" y2="330.8" stroke="#5a5a5a" stroke-width="1"/>
<rect x="366.72" y="312.3" width="3.8" height="0.8" fill="#555555"/>
<line x1="373.48" x2="373.48" y1="305.1" y2="355.9" stroke="#5a5a5a" stroke-width="1"/>
<rect x="371.93" y="312.65" width="3.1" height="39.10" fill="#ffa4a7" stroke="#555555" stroke-width="0.75"/>
<line x1="378.34" x2="378.34" y1="333.9" y2="388.3" stroke="#5a5a5a" stroke-width="1"/>
<rect x="376.79" y="350.55" width="3.1" height="1.60" fill="#6fd0bf" stroke="#555555" stroke-width="0.75"/>
<line x1="383.20" x2="383.20" y1="337.0" y2="360.3" stroke="#5a5a5a" stroke-width="1"/>
<rect x="381.30" y="350.2" width="3.8" height="1.0" fill="#555555"/>
<line x1="388.06" x2="388.06" y1="324.1" y2="352.7" stroke="#5a5a5a" stroke-width="1"/>
<rect x="386.51" y="327.75" width="3.1" height="22.80" fill="#6fd0bf" stroke="#555555" stroke-width="0.75"/>
<line x1="392.92" x2="392.92" y1="327.0" y2="355.5" stroke="#5a5a5a" stroke-width="1"/>
<rect x="391.37" y="327.75" width="3.1" height="27.40" fill="#ffa4a7" stroke="#555555" stroke-width="0.75"/>
<line x1="397.78" x2="397.78" y1="345.2" y2="373.6" stroke="#5a5a5a" stroke-width="1"/>
<rect x="396.23" y="355.95" width="3.1" height="9.40" fill="#ffa4a7" stroke="#555555" stroke-width="0.75"/>
<line x1="402.64" x2="402.64" y1="342.0" y2="365.7" stroke="#5a5a5a" stroke-width="1"/>
<rect x="401.09" y="348.75" width="3.1" height="16.60" fill="#6fd0bf" stroke="#555555" stroke-width="0.75"/>
<line x1="407.50" x2="407.50" y1="328.3" y2="354.6" stroke="#5a5a5a" stroke-width="1"/>
<rect x="405.95" y="331.15" width="3.1" height="16.80" fill="#6fd0bf" stroke="#555555" stroke-width="0.75"/>
<line x1="412.36" x2="412.36" y1="318.6" y2="334.2" stroke="#5a5a5a" stroke-width="1"/>
<rect x="410.81" y="323.25" width="3.1" height="7.20" fill="#6fd0bf" stroke="#555555" stroke-width="0.75"/>
<line x1="417.22" x2="417.22" y1="322.4" y2="344.6" stroke="#5a5a5a" stroke-width="1"/>
<rect x="415.67" y="323.25" width="3.1" height="10.30" fill="#ffa4a7" stroke="#555555" stroke-width="0.75"/>
<line x1="422.08" x2="422.08" y1="326.6" y2="348.7" stroke="#5a5a5a" stroke-width="1"/>
<rect x="420.18" y="333.3" width="3.8" height="0.8" fill="#555555"/>
<line x1="426.94" x2="426.94" y1="307.6" y2="333.5" stroke="#5a5a5a" stroke-width="1"/>
<rect x="425.39" y="309.45" width="3.1" height="23.70" fill="#6fd0bf" stroke="#555555" stroke-width="0.75"/>
<line x1="431.80" x2="431.80" y1="306.3" y2="323.6" stroke="#5a5a5a" stroke-width="1"/>
<rect x="430.25" y="309.45" width="3.1" height="3.40" fill="#ffa4a7" stroke="#555555" stroke-width="0.75"/>
<line x1="436.66" x2="436.66" y1="290.2" y2="315.0" stroke="#5a5a5a" stroke-width="1"/>
<rect x="435.11" y="310.35" width="3.1" height="2.80" fill="#6fd0bf" stroke="#555555" stroke-width="0.75"/>
<line x1="441.52" x2="441.52" y1="258.8" y2="317.7" stroke="#5a5a5a" stroke-width="1"/>
<rect x="439.97" y="263.55" width="3.1" height="45.80" fill="#6fd0bf" stroke="#555555" stroke-width="0.75"/>
<line x1="446.38" x2="446.38" y1="211.5" y2="263.1" stroke="#5a5a5a" stroke-width="1"/>
<rect x="444.83" y="226.45" width="3.1" height="36.30" fill="#6fd0bf" stroke="#555555" stroke-width="0.75"/>
<line x1="451.24" x2="451.24" y1="185.8" y2="226.1" stroke="#5a5a5a" stroke-width="1"/>
<rect x="449.69" y="193.65" width="3.1" height="32.10" fill="#6fd0bf" stroke="#555555" stroke-width="0.75"/>
<line x1="456.10" x2="456.10" y1="188.9" y2="222.0" stroke="#5a5a5a" stroke-width="1"/>
<rect x="454.55" y="193.65" width="3.1" height="2.50" fill="#ffa4a7" stroke="#555555" stroke-width="0.75"/>
<line x1="460.96" x2="460.96" y1="169.5" y2="216.6" stroke="#5a5a5a" stroke-width="1"/>
<rect x="459.41" y="181.15" width="3.1" height="15.00" fill="#6fd0bf" stroke="#555555" stroke-width="0.75"/>
<line x1="465.82" x2="465.82" y1="164.5" y2="207.6" stroke="#5a5a5a" stroke-width="1"/>
<rect x="464.27" y="168.55" width="3.1" height="11.90" fill="#6fd0bf" stroke="#555555" stroke-width="0.75"/>
<line x1="470.68" x2="470.68" y1="151.5" y2="216.6" stroke="#5a5a5a" stroke-width="1"/>
<rect x="469.13" y="168.55" width="3.1" height="36.30" fill="#ffa4a7" stroke="#555555" stroke-width="0.75"/>
<line x1="475.54" x2="475.54" y1="185.4" y2="214.8" stroke="#5a5a5a" stroke-width="1"/>
<rect x="473.99" y="205.55" width="3.1" height="4.90" fill="#ffa4a7" stroke="#555555" stroke-width="0.75"/>
<line x1="480.40" x2="480.40" y1="189.6" y2="219.8" stroke="#5a5a5a" stroke-width="1"/>
<rect x="478.85" y="192.75" width="3.1" height="17.30" fill="#6fd0bf" stroke="#555555" stroke-width="0.75"/>
<line x1="485.26" x2="485.26" y1="174.1" y2="219.8" stroke="#5a5a5a" stroke-width="1"/>
<rect x="483.71" y="192.75" width="3.1" height="14.40" fill="#ffa4a7" stroke="#555555" stroke-width="0.75"/>
<line x1="490.12" x2="490.12" y1="159.8" y2="228.6" stroke="#5a5a5a" stroke-width="1"/>
<rect x="488.57" y="181.15" width="3.1" height="26.00" fill="#6fd0bf" stroke="#555555" stroke-width="0.75"/>
<line x1="494.98" x2="494.98" y1="147.5" y2="186.7" stroke="#5a5a5a" stroke-width="1"/>
<rect x="493.43" y="175.75" width="3.1" height="4.30" fill="#6fd0bf" stroke="#555555" stroke-width="0.75"/>
<line x1="499.84" x2="499.84" y1="159.1" y2="199.6" stroke="#5a5a5a" stroke-width="1"/>
<rect x="498.29" y="175.75" width="3.1" height="18.50" fill="#ffa4a7" stroke="#555555" stroke-width="0.75"/>
<line x1="504.70" x2="504.70" y1="175.1" y2="219.8" stroke="#5a5a5a" stroke-width="1"/>
<rect x="503.15" y="194.95" width="3.1" height="4.30" fill="#ffa4a7" stroke="#555555" stroke-width="0.75"/>
<line x1="509.56" x2="509.56" y1="189.6" y2="208.6" stroke="#5a5a5a" stroke-width="1"/>
<rect x="508.01" y="199.95" width="3.1" height="0.90" fill="#ffa4a7" stroke="#555555" stroke-width="0.75"/>
<line x1="514.42" x2="514.42" y1="187.0" y2="211.5" stroke="#5a5a5a" stroke-width="1"/>
<rect x="512.52" y="200.2" width="3.8" height="0.8" fill="#555555"/>
<line x1="519.28" x2="519.28" y1="199.2" y2="272.0" stroke="#5a5a5a" stroke-width="1"/>
<rect x="517.73" y="200.55" width="3.1" height="7.40" fill="#ffa4a7" stroke="#555555" stroke-width="0.75"/>
<line x1="524.14" x2="524.14" y1="207.1" y2="264.0" stroke="#5a5a5a" stroke-width="1"/>
<rect x="522.59" y="208.65" width="3.1" height="53.20" fill="#ffa4a7" stroke="#555555" stroke-width="0.75"/>
<line x1="529.00" x2="529.00" y1="243.2" y2="278.7" stroke="#5a5a5a" stroke-width="1"/>
<rect x="527.45" y="255.85" width="3.1" height="6.00" fill="#6fd0bf" stroke="#555555" stroke-width="0.75"/>
<line x1="533.86" x2="533.86" y1="234.5" y2="259.8" stroke="#5a5a5a" stroke-width="1"/>
<rect x="532.31" y="240.85" width="3.1" height="13.70" fill="#6fd0bf" stroke="#555555" stroke-width="0.75"/>
<line x1="538.72" x2="538.72" y1="229.9" y2="258.1" stroke="#5a5a5a" stroke-width="1"/>
<rect x="537.17" y="240.85" width="3.1" height="14.40" fill="#ffa4a7" stroke="#555555" stroke-width="0.75"/>
<line x1="543.58" x2="543.58" y1="230.6" y2="275.8" stroke="#5a5a5a" stroke-width="1"/>
<rect x="542.03" y="256.05" width="3.1" height="15.60" fill="#ffa4a7" stroke="#555555" stroke-width="0.75"/>
<line x1="548.44" x2="548.44" y1="240.2" y2="286.7" stroke="#5a5a5a" stroke-width="1"/>
<rect x="546.89" y="250.65" width="3.1" height="21.00" fill="#6fd0bf" stroke="#555555" stroke-width="0.75"/>
<line x1="553.30" x2="553.30" y1="238.7" y2="252.0" stroke="#5a5a5a" stroke-width="1"/>
<rect x="551.75" y="244.95" width="3.1" height="5.00" fill="#6fd0bf" stroke="#555555" stroke-width="0.75"/>
<line x1="558.16" x2="558.16" y1="200.9" y2="244.4" stroke="#5a5a5a" stroke-width="1"/>
<rect x="556.61" y="210.85" width="3.1" height="33.20" fill="#6fd0bf" stroke="#555555" stroke-width="0.75"/>
<line x1="563.02" x2="563.02" y1="193.7" y2="211.0" stroke="#5a5a5a" stroke-width="1"/>
<rect x="561.47" y="208.75" width="3.1" height="0.90" fill="#6fd0bf" stroke="#555555" stroke-width="0.75"/>
<line x1="567.88" x2="567.88" y1="165.1" y2="210.3" stroke="#5a5a5a" stroke-width="1"/>
<rect x="566.33" y="168.95" width="3.1" height="39.10" fill="#6fd0bf" stroke="#555555" stroke-width="0.75"/>
<line x1="572.74" x2="572.74" y1="158.5" y2="182.0" stroke="#5a5a5a" stroke-width="1"/>
<rect x="571.19" y="159.45" width="3.1" height="8.80" fill="#6fd0bf" stroke="#555555" stroke-width="0.75"/>
<line x1="577.60" x2="577.60" y1="137.1" y2="176.4" stroke="#5a5a5a" stroke-width="1"/>
<rect x="576.05" y="149.75" width="3.1" height="9.00" fill="#6fd0bf" stroke="#555555" stroke-width="0.75"/>
<line x1="582.46" x2="582.46" y1="141.9" y2="172.4" stroke="#5a5a5a" stroke-width="1"/>
<rect x="580.91" y="149.75" width="3.1" height="12.20" fill="#ffa4a7" stroke="#555555" stroke-width="0.75"/>
<line x1="587.32" x2="587.32" y1="157.3" y2="183.7" stroke="#5a5a5a" stroke-width="1"/>
<rect x="585.42" y="162.0" width="3.8" height="0.8" fill="#555555"/>
<line x1="592.18" x2="592.18" y1="142.8" y2="173.9" stroke="#5a5a5a" stroke-width="1"/>
<rect x="590.28" y="162.0" width="3.8" height="0.8" fill="#555555"/>
<line x1="597.04" x2="597.04" y1="149.0" y2="191.7" stroke="#5a5a5a" stroke-width="1"/>
<rect x="595.49" y="163.55" width="3.1" height="17.50" fill="#ffa4a7" stroke="#555555" stroke-width="0.75"/>
<line x1="601.90" x2="601.90" y1="151.0" y2="185.8" stroke="#5a5a5a" stroke-width="1"/>
<rect x="600.35" y="151.85" width="3.1" height="29.20" fill="#6fd0bf" stroke="#555555" stroke-width="0.75"/>
<line x1="606.76" x2="606.76" y1="142.8" y2="164.1" stroke="#5a5a5a" stroke-width="1"/>
<rect x="605.21" y="148.85" width="3.1" height="2.70" fill="#6fd0bf" stroke="#555555" stroke-width="0.75"/>
<line x1="611.62" x2="611.62" y1="107.4" y2="155.3" stroke="#5a5a5a" stroke-width="1"/>
<rect x="610.07" y="109.45" width="3.1" height="38.70" fill="#6fd0bf" stroke="#555555" stroke-width="0.75"/>
<line x1="616.48" x2="616.48" y1="92.8" y2="122.4" stroke="#5a5a5a" stroke-width="1"/>
<rect x="614.93" y="109.45" width="3.1" height="6.40" fill="#ffa4a7" stroke="#555555" stroke-width="0.75"/>
<line x1="621.34" x2="621.34" y1="104.1" y2="126.4" stroke="#5a5a5a" stroke-width="1"/>
<rect x="619.79" y="107.75" width="3.1" height="8.10" fill="#6fd0bf" stroke="#555555" stroke-width="0.75"/>
<line x1="626.20" x2="626.20" y1="105.7" y2="137.5" stroke="#5a5a5a" stroke-width="1"/>
<rect x="624.65" y="107.75" width="3.1" height="20.60" fill="#ffa4a7" stroke="#555555" stroke-width="0.75"/>
<line x1="631.06" x2="631.06" y1="107.9" y2="134.2" stroke="#5a5a5a" stroke-width="1"/>
<rect x="629.51" y="108.55" width="3.1" height="19.80" fill="#6fd0bf" stroke="#555555" stroke-width="0.75"/>
<line x1="635.92" x2="635.92" y1="87.3" y2="117.7" stroke="#5a5a5a" stroke-width="1"/>
<rect x="634.37" y="108.55" width="3.1" height="6.50" fill="#ffa4a7" stroke="#555555" stroke-width="0.75"/>
<line x1="640.78" x2="640.78" y1="114.5" y2="142.8" stroke="#5a5a5a" stroke-width="1"/>
<rect x="639.23" y="115.75" width="3.1" height="15.40" fill="#ffa4a7" stroke="#555555" stroke-width="0.75"/>
<line x1="645.64" x2="645.64" y1="130.8" y2="155.7" stroke="#5a5a5a" stroke-width="1"/>
<rect x="644.09" y="131.85" width="3.1" height="20.30" fill="#ffa4a7" stroke="#555555" stroke-width="0.75"/>
<line x1="650.50" x2="650.50" y1="131.7" y2="156.3" stroke="#5a5a5a" stroke-width="1"/>
<rect x="648.95" y="140.85" width="3.1" height="11.30" fill="#6fd0bf" stroke="#555555" stroke-width="0.75"/>
<line x1="655.36" x2="655.36" y1="117.9" y2="142.5" stroke="#5a5a5a" stroke-width="1"/>
<rect x="653.81" y="124.55" width="3.1" height="15.60" fill="#6fd0bf" stroke="#555555" stroke-width="0.75"/>
<line x1="660.22" x2="660.22" y1="113.3" y2="126.7" stroke="#5a5a5a" stroke-width="1"/>
<rect x="658.32" y="124.3" width="3.8" height="0.8" fill="#555555"/>
<line x1="665.08" x2="665.08" y1="123.3" y2="150.7" stroke="#5a5a5a" stroke-width="1"/>
<rect x="663.53" y="124.55" width="3.1" height="11.60" fill="#ffa4a7" stroke="#555555" stroke-width="0.75"/>
<line x1="669.94" x2="669.94" y1="82.3" y2="138.7" stroke="#5a5a5a" stroke-width="1"/>
<rect x="668.39" y="91.65" width="3.1" height="44.50" fill="#6fd0bf" stroke="#555555" stroke-width="0.75"/>
<line x1="674.80" x2="674.80" y1="80.0" y2="157.3" stroke="#5a5a5a" stroke-width="1"/>
<rect x="673.25" y="91.65" width="3.1" height="33.20" fill="#ffa4a7" stroke="#555555" stroke-width="0.75"/>
<line x1="679.66" x2="679.66" y1="121.0" y2="170.9" stroke="#5a5a5a" stroke-width="1"/>
<rect x="678.11" y="125.65" width="3.1" height="25.20" fill="#ffa4a7" stroke="#555555" stroke-width="0.75"/>
<line x1="684.52" x2="684.52" y1="123.2" y2="158.3" stroke="#5a5a5a" stroke-width="1"/>
<rect x="682.97" y="127.95" width="3.1" height="22.90" fill="#6fd0bf" stroke="#555555" stroke-width="0.75"/>
<line x1="689.38" x2="689.38" y1="119.0" y2="159.2" stroke="#5a5a5a" stroke-width="1"/>
<rect x="687.83" y="127.05" width="3.1" height="15.80" fill="#ffa4a7" stroke="#555555" stroke-width="0.75"/>
<line x1="694.24" x2="694.24" y1="142.4" y2="189.5" stroke="#5a5a5a" stroke-width="1"/>
<rect x="692.69" y="143.25" width="3.1" height="22.80" fill="#ffa4a7" stroke="#555555" stroke-width="0.75"/>
<line x1="699.10" x2="699.10" y1="154.9" y2="212.7" stroke="#5a5a5a" stroke-width="1"/>
<rect x="697.55" y="166.75" width="3.1" height="41.20" fill="#ffa4a7" stroke="#555555" stroke-width="0.75"/>
<line x1="703.96" x2="703.96" y1="201.2" y2="262.7" stroke="#5a5a5a" stroke-width="1"/>
<rect x="702.41" y="208.65" width="3.1" height="29.20" fill="#ffa4a7" stroke="#555555" stroke-width="0.75"/>
<line x1="708.82" x2="708.82" y1="212.1" y2="243.9" stroke="#5a5a5a" stroke-width="1"/>
<rect x="707.27" y="223.95" width="3.1" height="13.90" fill="#6fd0bf" stroke="#555555" stroke-width="0.75"/>
<line x1="713.68" x2="713.68" y1="207.7" y2="249.1" stroke="#5a5a5a" stroke-width="1"/>
<rect x="711.78" y="223.2" width="3.8" height="0.8" fill="#555555"/>
<line x1="718.54" x2="718.54" y1="206.4" y2="234.1" stroke="#5a5a5a" stroke-width="1"/>
<rect x="716.99" y="223.85" width="3.1" height="8.40" fill="#ffa4a7" stroke="#555555" stroke-width="0.75"/>
<line x1="723.40" x2="723.40" y1="223.4" y2="247.4" stroke="#5a5a5a" stroke-width="1"/>
<rect x="721.85" y="231.05" width="3.1" height="0.90" fill="#6fd0bf" stroke="#555555" stroke-width="0.75"/>
<line x1="728.26" x2="728.26" y1="222.3" y2="239.1" stroke="#5a5a5a" stroke-width="1"/>
<rect x="726.71" y="231.05" width="3.1" height="3.00" fill="#ffa4a7" stroke="#555555" stroke-width="0.75"/>
<line x1="733.12" x2="733.12" y1="217.8" y2="237.6" stroke="#5a5a5a" stroke-width="1"/>
<rect x="731.57" y="219.85" width="3.1" height="14.20" fill="#6fd0bf" stroke="#555555" stroke-width="0.75"/>
<line x1="737.98" x2="737.98" y1="204.9" y2="227.6" stroke="#5a5a5a" stroke-width="1"/>
<rect x="736.43" y="220.25" width="3.1" height="1.40" fill="#ffa4a7" stroke="#555555" stroke-width="0.75"/>
<line x1="742.84" x2="742.84" y1="193.2" y2="224.5" stroke="#5a5a5a" stroke-width="1"/>
<rect x="741.29" y="210.75" width="3.1" height="10.90" fill="#6fd0bf" stroke="#555555" stroke-width="0.75"/>
<line x1="747.70" x2="747.70" y1="210.0" y2="240.1" stroke="#5a5a5a" stroke-width="1"/>
<rect x="746.15" y="210.75" width="3.1" height="28.00" fill="#ffa4a7" stroke="#555555" stroke-width="0.75"/>
<line x1="752.56" x2="752.56" y1="223.5" y2="281.7" stroke="#5a5a5a" stroke-width="1"/>
<rect x="751.01" y="239.15" width="3.1" height="37.90" fill="#ffa4a7" stroke="#555555" stroke-width="0.75"/>
<line x1="757.42" x2="757.42" y1="267.6" y2="344.2" stroke="#5a5a5a" stroke-width="1"/>
<rect x="755.87" y="277.75" width="3.1" height="26.00" fill="#ffa4a7" stroke="#555555" stroke-width="0.75"/>
<line x1="762.28" x2="762.28" y1="299.1" y2="323.7" stroke="#5a5a5a" stroke-width="1"/>
<rect x="760.73" y="304.85" width="3.1" height="4.30" fill="#ffa4a7" stroke="#555555" stroke-width="0.75"/>
<line x1="767.14" x2="767.14" y1="305.2" y2="322.1" stroke="#5a5a5a" stroke-width="1"/>
<rect x="765.59" y="310.55" width="3.1" height="3.70" fill="#ffa4a7" stroke="#555555" stroke-width="0.75"/>
<line x1="772.00" x2="772.00" y1="305.2" y2="334.3" stroke="#5a5a5a" stroke-width="1"/>
<rect x="770.45" y="314.95" width="3.1" height="6.80" fill="#ffa4a7" stroke="#555555" stroke-width="0.75"/>
<line x1="776.86" x2="776.86" y1="288.6" y2="323.0" stroke="#5a5a5a" stroke-width="1"/>
<rect x="774.96" y="321.4" width="3.8" height="0.8" fill="#555555"/>
<line x1="781.72" x2="781.72" y1="288.6" y2="321.2" stroke="#5a5a5a" stroke-width="1"/>
<rect x="780.17" y="294.25" width="3.1" height="26.60" fill="#6fd0bf" stroke="#555555" stroke-width="0.75"/>
<line x1="786.58" x2="786.58" y1="280.7" y2="314.6" stroke="#5a5a5a" stroke-width="1"/>
<rect x="785.03" y="294.25" width="3.1" height="19.30" fill="#ffa4a7" stroke="#555555" stroke-width="0.75"/>
<line x1="791.44" x2="791.44" y1="297.0" y2="324.6" stroke="#5a5a5a" stroke-width="1"/>
<rect x="789.89" y="314.25" width="3.1" height="6.60" fill="#ffa4a7" stroke="#555555" stroke-width="0.75"/>
<line x1="796.30" x2="796.30" y1="308.3" y2="321.2" stroke="#5a5a5a" stroke-width="1"/>
<rect x="794.75" y="309.55" width="3.1" height="11.30" fill="#6fd0bf" stroke="#555555" stroke-width="0.75"/>
<line x1="801.16" x2="801.16" y1="289.5" y2="313.3" stroke="#5a5a5a" stroke-width="1"/>
<rect x="799.61" y="301.95" width="3.1" height="6.90" fill="#6fd0bf" stroke="#555555" stroke-width="0.75"/>
<line x1="806.02" x2="806.02" y1="271.0" y2="301.6" stroke="#5a5a5a" stroke-width="1"/>
<rect x="804.47" y="275.65" width="3.1" height="25.60" fill="#6fd0bf" stroke="#555555" stroke-width="0.75"/>
<line x1="39" x2="884" y1="275.4" y2="275.4" stroke="#8fd3c7" stroke-width="1" stroke-dasharray="0.9 1.6"/>
</svg>

<!-- price axis -->
<div class="pt" style="top:60.6px">130,000.00</div>
<div class="pt" style="top:100.6px">120,000.00</div>
<div class="pt" style="top:140.6px">110,000.00</div>
<div class="pt" style="top:180.6px">100,000.00</div>
<div class="pt" style="top:220.6px;left:933.4px">90,000.00</div>
<div class="pt" style="top:260.6px;left:933.4px">80,000.00</div>
<div class="pt" style="top:419.6px;left:933.4px">40,000.00</div>
<div class="pt" style="top:459.6px;left:933.4px">30,000.00</div>
<div class="pt" style="top:499.6px;left:933.4px;height:2.4px;overflow:hidden">20,000.00</div>

<div class="pl" style="top:150.8px;background:#2962ff;width:58.8px">107,000.00</div>
<div class="pl" style="top:198.4px;background:#2962ff;padding-left:7.3px">95,000.00</div>
<div class="pl" style="top:228.5px;background:#f23645;padding-left:7.3px;line-height:14.6px">86,739.56</div>
<div class="pl" style="top:242.2px;background:#2962ff;padding-left:7.3px">84,000.00</div>
<div class="pl" style="top:268.4px;height:25.4px;background:#6fcbbb;color:#131722;padding-left:7px;line-height:12px;padding-top:1.8px">77,396.25<br><span style="color:#2e4a45">2d 5h</span></div>
<div class="pl" style="top:268.4px;left:885.3px;width:39.8px;height:13.4px;background:#6fcbbb;color:#131722;padding-left:3.2px;line-height:15.6px;border-radius:2px;font-size:10.3px;-webkit-text-stroke:0.1px #131722"><span style="display:inline-block;transform-origin:0 50%;transform:scaleX(0.82)">BTCUSD</span></div>
<div class="pl" style="top:293.8px;background:#2962ff;padding-left:7.3px">72,000.00</div>
<div class="pl" style="top:307.3px;background:#2a2aff;padding-left:7.3px">68,401.27</div>
<div class="pl" style="top:337.7px;background:#2962ff;padding-left:7.3px;line-height:14.8px">60,000.00</div>
<div class="pl" style="top:377.7px;background:#2962ff;padding-left:7.3px">50,000.00</div>
<div class="pl" style="top:480.4px;width:42px;height:13px;line-height:15px;background:#26a69a;padding-left:6.5px">67.97&#8202;K</div>

<!-- USD box -->
<div class="abs" style="left:929.5px;top:34.5px;width:55px;height:19.5px;border:1px solid #f0f0f3;border-radius:3px;background:#fff"></div>
<div class="t" style="left:933px;top:39.8px;font-size:9px">USD</div>
<svg style="left:975.6px;top:42.6px" width="6" height="4" viewBox="0 0 6 4"><path d="M0.8 0.8 L3 2.8 L5.2 0.8" fill="none" stroke="#131722" stroke-width="1.1"/></svg>

<!-- A / L buttons -->
<div class="abs" style="left:939px;top:505px;width:16.5px;height:16.5px;background:#2b2b2f;border-radius:3px;color:#fff;font-size:10.5px;line-height:16.5px;text-align:center">A</div>
<div class="abs" style="left:958.5px;top:505px;width:16.5px;height:16.5px;background:#fff;border:1px solid #ebebef;border-radius:3px;color:#131722;font-size:10.5px;line-height:15px;text-align:center">L</div>
<svg style="left:951px;top:530.5px" width="14" height="13" viewBox="0 0 14 13"><path d="M4 1.2 H10 L13 6.5 L10 11.8 H4 L1 6.5 Z" fill="none" stroke="#2a2e39" stroke-width="1"/><circle cx="7" cy="6.5" r="1.6" fill="none" stroke="#2a2e39" stroke-width="1"/></svg>

<!-- legend -->
<div class="t lg" style="left:46px;top:41.2px">Vol · BTC<span class="v" style="color:#26a69a">67.97&#8202;K</span></div>
<div class="t lg" style="left:46px;top:60.4px">EMA <span style="color:#4a4e59">50 close</span><span class="v" style="color:#f23645">86,739.56</span></div>
<div class="t lg" style="left:46px;top:79.4px">EMA <span style="color:#4a4e59">200 close</span><span class="v" style="color:#3a3aff">68,401.27</span></div>
<div class="abs" style="left:46px;top:94.5px;width:23px;height:16.5px;border:1px solid #e0e3eb;border-radius:2px;background:#fff"></div>
<svg style="left:54.5px;top:100px" width="7" height="5" viewBox="0 0 7 5"><path d="M1 4 L3.5 1.4 L6 4" fill="none" stroke="#131722" stroke-width="1.3"/></svg>

<!-- TV logo -->
<svg style="left:47.5px;top:502px" width="26" height="13" viewBox="0 0 26 13"><g fill="#111" stroke="#fff" stroke-width="1.8" paint-order="stroke" stroke-linejoin="round"><path d="M0.5 0.5 H10.5 V12 H5.6 V5.6 H0.5 Z"/><circle cx="14.2" cy="3.1" r="2.6"/><path d="M19 0.5 H25.2 L20 12 H13.8 Z"/></g></svg>

<!-- chart icons bottom right -->
<svg style="left:794.2px;top:486px" width="28" height="40" viewBox="0 0 28 40">
<defs><clipPath id="fc2"><circle cx="16.4" cy="29" r="6.6"/></clipPath><clipPath id="fc"><circle cx="10.4" cy="29" r="6.6"/></clipPath></defs>
<circle cx="16.4" cy="29" r="7.7" fill="#fff" stroke="#f23645" stroke-width="1.4"/>
<g clip-path="url(#fc2)"><rect x="8" y="23.2" width="18" height="1.6" fill="#f23645"/><rect x="8" y="26.4" width="18" height="1.6" fill="#f23645"/><rect x="8" y="29.6" width="18" height="1.6" fill="#f23645"/><rect x="8" y="32.8" width="18" height="1.6" fill="#f23645"/></g>
<circle cx="10.4" cy="29" r="7.7" fill="#fff" stroke="#f23645" stroke-width="1.4"/>
<g clip-path="url(#fc)"><rect x="3" y="22" width="16" height="1.4" fill="#f23645"/><rect x="3" y="25" width="16" height="1.6" fill="#f23645"/><rect x="3" y="28.2" width="16" height="1.6" fill="#f23645"/><rect x="3" y="31.4" width="16" height="1.6" fill="#f23645"/><rect x="3" y="34.4" width="16" height="1.6" fill="#f23645"/><rect x="3" y="22" width="7.8" height="7.8" fill="#4a86f0"/></g>
<circle cx="11.8" cy="9.4" r="8.1" fill="#fff" stroke="#ab47bc" stroke-width="1.3"/>
<path d="M13.6 4.8 L8.8 10.2 H11.6 L10.4 14.2 L15.2 8.6 H12.4 Z" fill="#ab47bc"/>
<path d="M3.2 7.4 Q4 11.6 8 12.4 Q4 13.2 3.2 17.4 Q2.4 13.2 -1.6 12.4 Q2.4 11.6 3.2 7.4 Z" fill="#5b5bf7" stroke="#fff" stroke-width="0.9"/>
</svg>

<!-- cursor -->
<svg style="left:850px;top:322px" width="10" height="20" viewBox="0 0 10 20"><path d="M5 0.8 L8.6 4.6 H5.8 V14.4 H8.6 L5 18.2 L1.4 14.4 H4.2 V4.6 H1.4 Z" fill="#fff" stroke="#555" stroke-width="0.9"/></svg>

<!-- time axis -->
<div class="tx" style="left:101px">Jul</div>
<div class="tx" style="left:228px;font-weight:bold">2024</div>
<div class="tx" style="left:353px">Jul</div>
<div class="tx" style="left:485px;font-weight:bold">2025</div>
<div class="tx" style="left:611px">Jul</div>
<div class="tx" style="left:737px;font-weight:bold">2026</div>
<div class="tx" style="left:863px">Jul</div>
<div class="abs" style="left:39px;top:548px;width:949.5px;height:1px;background:#e6e8ee"></div>

<!-- bottom bar -->
<div class="bb" style="left:49.5px">1D</div>
<div class="bb" style="left:72px">5D</div>
<div class="bb" style="left:95.5px">1M</div>
<div class="bb" style="left:118.5px">3M</div>
<div class="bb" style="left:142px">6M</div>
<div class="bb" style="left:165.5px">YTD</div>
<div class="bb" style="left:196px">1Y</div>
<div class="bb" style="left:218px">5Y</div>
<div class="bb" style="left:240px">All</div>
<div class="abs" style="left:262px;top:555px;width:1px;height:15px;background:#e0e3eb"></div>
<svg style="left:272px;top:554.5px" width="17" height="17" viewBox="0 0 17 17"><path d="M3 7.5 V4 Q3 2.8 4.2 2.8 H13.3 Q14.5 2.8 14.5 4 V13.3 Q14.5 14.5 13.3 14.5 H9.5 M3 6.2 H14.5 M6 1 V4 M11.5 1 V4 M0.8 11 H6.8 M4.6 8.6 L7 11 L4.6 13.4" fill="none" stroke="#131722" stroke-width="1"/></svg>
<div class="bb" style="left:913px;font-size:10.7px;margin-top:0.6px">19:20:35 UTC</div>


<!-- TOP BAR -->
<div class="abs" style="left:4px;top:2px;width:21px;height:21px;border-radius:50%;background:#a1735c"></div>
<div class="t" style="left:10.6px;top:6.9px;font-size:12.5px;color:#fff">T</div>
<div class="abs" style="left:19.1px;top:-2.4px;width:14.4px;height:14.4px;border-radius:50%;background:#f23645;border:0.6px solid #fff"></div>
<div class="t" style="left:22.2px;top:0.9px;font-size:8px;color:#fff;font-weight:bold;letter-spacing:-0.2px">11</div>
<div class="abs" style="left:39px;top:0.8px;width:102.5px;height:22px;border-radius:11px;background:#f0f0f0"></div>
<div class="t" style="left:48.6px;top:8.2px;font-size:10.2px;font-weight:bold;letter-spacing:-0.2px;-webkit-text-stroke:0.15px #131722">BTCUSD</div>
<div class="abs" style="left:121.1px;top:1.6px;width:20.2px;height:20.2px;border-radius:50%;background:#fff"></div>
<svg style="left:123.7px;top:6.5px" width="14" height="12" viewBox="0 0 14 12"><path d="M3 0.9 H10.8 L13 4.6 L6.8 10.8 L0.7 4.6 Z" fill="none" stroke="#131722" stroke-width="1.1" stroke-linejoin="round"/><circle cx="6.8" cy="5.1" r="1.5" fill="#131722"/><path d="M6.8 2.6 V5" stroke="#131722" stroke-width="0.9"/></svg>
<svg style="left:152.1px;top:4.5px" width="16" height="16" viewBox="0 0 16 16"><circle cx="8" cy="8" r="7.2" fill="none" stroke="#131722" stroke-width="1"/><path d="M8 4.3 V11.7 M4.3 8 H11.7" stroke="#131722" stroke-width="1"/></svg>
<div class="sep" style="left:179px"></div>
<div class="t tb" style="left:192.9px;top:6.5px;font-size:11.2px">W</div>
<div class="sep" style="left:216px"></div>
<svg style="left:228px;top:4px" width="15" height="17" viewBox="0 0 15 17"><path d="M4.65 0 V2.3 M4.65 13.5 V16 M11.05 2.5 V5 M11.05 11 V13.5" stroke="#131722" stroke-width="1"/><rect x="2.7" y="2.3" width="3.9" height="11.2" rx="0.8" fill="none" stroke="#131722" stroke-width="1"/><rect x="9.3" y="5" width="3.5" height="6" rx="0.6" fill="none" stroke="#131722" stroke-width="1"/></svg>
<div class="sep" style="left:254px"></div>
<svg style="left:266px;top:4px" width="16" height="16" viewBox="0 0 16 16"><path d="M1.1 6 L4.7 1.9 L8.4 4.4 L14.7 0.5" fill="none" stroke="#131722" stroke-width="1"/><path d="M1.4 14.75 V11.5 Q1.4 10.7 2.2 10.7 H4.7 V14.75 M4.7 10.7 V9.9 Q4.7 9.1 5.5 9.1 H7.9 Q8.7 9.1 8.7 9.9 V14.75 M10.9 14.75 V7.4 Q10.9 6.3 12 6.3 H13.6 Q14.7 6.3 14.7 7.4 V14.75 M1.4 14.75 H14.7" fill="none" stroke="#131722" stroke-width="1" stroke-linejoin="round"/></svg>
<div class="t tb" style="left:288px;top:6.4px">Indicators</div>
<svg style="left:352px;top:9.5px" width="8" height="5" viewBox="0 0 8 5"><path d="M1 0.8 L4 3.8 L7 0.8" fill="none" stroke="#131722" stroke-width="1"/></svg>
<svg style="left:373.7px;top:4.9px" width="13.4" height="13.6" viewBox="0 0 14 14"><rect x="0.6" y="0.6" width="5" height="5" rx="1.3" fill="none" stroke="#131722" stroke-width="1"/><rect x="8.2" y="0.6" width="5" height="5" rx="1.3" fill="none" stroke="#131722" stroke-width="1"/><rect x="0.6" y="8.2" width="5" height="5" rx="1.3" fill="none" stroke="#131722" stroke-width="1"/><rect x="8.2" y="8.2" width="5" height="5" rx="1.3" fill="none" stroke="#131722" stroke-width="1"/></svg>
<div class="sep" style="left:399px"></div>
<svg style="left:409px;top:3px" width="20" height="20" viewBox="0 0 20 20"><path d="M15.4 9.6 A6.7 6.7 0 1 0 9.2 16" fill="none" stroke="#131722" stroke-width="1"/><path d="M9.2 5.4 V9.3 H6 M0.9 4.5 L3.5 2 M14.3 2 L16.9 4.5 M13.5 11 V18 M10 14.5 H17" fill="none" stroke="#131722" stroke-width="1"/></svg>
<div class="t tb" style="left:433px;top:6.4px">Alert</div>
<svg style="left:475px;top:7.5px" width="14" height="10" viewBox="0 0 14 10"><path d="M6.2 1 L1.2 5 L6.2 9 Z M12.6 1 L7.6 5 L12.6 9 Z" fill="none" stroke="#131722" stroke-width="1" stroke-linejoin="round"/></svg>
<div class="t tb" style="left:496px;top:6.4px;letter-spacing:-0.35px">Replay</div>
<div class="sep" style="left:540px"></div>
<svg style="left:552.5px;top:6.5px" width="14" height="11" viewBox="0 0 14 11"><path d="M4.6 1 L1.2 4.2 L4.6 7.4 M1.4 4.2 H8.2 Q12.4 4.2 12.4 9.8" fill="none" stroke="#131722" stroke-width="1"/></svg>
<svg style="left:583px;top:6.5px" width="14" height="11" viewBox="0 0 14 11"><path d="M9.4 1 L12.8 4.2 L9.4 7.4 M12.6 4.2 H5.8 Q1.6 4.2 1.6 9.8" fill="none" stroke="#b8bac2" stroke-width="1"/></svg>
<div class="abs" style="left:684px;top:5px;width:14.5px;height:14px;border:1px solid #131722;border-radius:2px"></div>
<div class="t tb" style="left:710px;top:6.4px">Unnamed</div>
<svg style="left:767.5px;top:9.5px" width="8" height="5" viewBox="0 0 8 5"><path d="M1 0.8 L4 3.8 L7 0.8" fill="none" stroke="#131722" stroke-width="1"/></svg>
<div class="sep" style="left:785px"></div>
<svg style="left:796px;top:3.5px" width="17" height="18" viewBox="0 0 17 18"><path d="M9.2 2.2 A6 6 0 1 0 12.2 11.6 M11.2 12.2 L15.4 16.6" fill="none" stroke="#131722" stroke-width="1"/><path d="M10.2 0.8 L6.6 7.6 H9.6 L8.4 12 L12.8 5.4 H9.6 L11.6 0.8 Z" fill="#fff" stroke="#131722" stroke-width="0.9" stroke-linejoin="round"/></svg>
<svg style="left:825px;top:4px" width="18" height="16" viewBox="0 0 18 16"><path d="M5 1 H13 L17 8 L13 15 H5 L1 8 Z" fill="none" stroke="#131722" stroke-width="1" stroke-linejoin="round"/><circle cx="9" cy="8" r="2.9" fill="none" stroke="#131722" stroke-width="1"/></svg>
<svg style="left:859px;top:5.5px" width="14" height="14" viewBox="0 0 14 14"><path d="M0.8 4.2 V2.4 Q0.8 0.8 2.4 0.8 H4.2 M9.8 0.8 H11.6 Q13.2 0.8 13.2 2.4 V4.2 M13.2 9.8 V11.6 Q13.2 13.2 11.6 13.2 H9.8 M4.2 13.2 H2.4 Q0.8 13.2 0.8 11.6 V9.8" fill="none" stroke="#131722" stroke-width="1"/></svg>
<svg style="left:886px;top:5px" width="19" height="15" viewBox="0 0 19 15"><path d="M2.6 3.4 H5 L6.2 1.2 H12.8 L14 3.4 H16.4 Q17.8 3.4 17.8 4.8 V12.2 Q17.8 13.6 16.4 13.6 H2.6 Q1.2 13.6 1.2 12.2 V4.8 Q1.2 3.4 2.6 3.4 Z" fill="none" stroke="#131722" stroke-width="1"/><circle cx="9.5" cy="8.2" r="3.2" fill="none" stroke="#131722" stroke-width="1"/></svg>
<div class="abs" style="left:915px;top:1.5px;width:46.5px;height:22px;border-radius:11px;border:1px solid #e4e6ec;background:#fff"></div>
<div class="t tb" style="left:924.5px;top:6.4px">Trade</div>
<div class="abs" style="left:968.5px;top:1.5px;width:52.5px;height:22px;border-radius:11px;background:#2a2a2e"></div>
<div class="t tb" style="left:977px;top:6.4px;color:#fff;font-weight:bold;font-size:10.8px">Publish</div>

<!-- LEFT TOOLBAR -->
<div class="abs" style="left:1px;top:37.1px;width:27.3px;height:27.3px;border-radius:4px;background:#ededed"></div>
<svg style="left:8.3px;top:43.2px" width="13" height="16.2" viewBox="0 0 12 15"><path d="M1.2 1 V11.4 L4 8.8 L6 13.4 L7.8 12.6 L5.8 8.2 H9.4 Z" fill="#fff" stroke="#131722" stroke-width="1" stroke-linejoin="round"/></svg>
<svg style="left:5px;top:72px" width="20" height="20" viewBox="0 0 20 20"><path d="M3.2 15.7 L15.7 3.1" stroke="#131722" stroke-width="1"/><circle cx="2.6" cy="16.3" r="1.6" fill="#fff" stroke="#131722" stroke-width="1"/><circle cx="16.3" cy="2.5" r="1.6" fill="#fff" stroke="#131722" stroke-width="1"/></svg>
<svg style="left:0;top:0" width="36" height="130" viewBox="0 0 36 130"><path d="M5.9 104.4 H22.6 M5.9 109.2 H21.4 M5.9 113.8 H22.6 M7.6 118.7 H22.6" stroke="#131722" stroke-width="1" fill="none"/><circle cx="22.8" cy="109.2" r="1.6" fill="#fff" stroke="#131722" stroke-width="1"/><circle cx="6.3" cy="118.7" r="1.6" fill="#fff" stroke="#131722" stroke-width="1"/></svg>
<svg style="left:0;top:0" width="36" height="160" viewBox="0 0 36 160"><path d="M7.3 149.9 L9.8 135.2 L12.6 140.7 L19.9 136.3 L22 146.3 M7.3 149.9 L12.6 140.7 L22 146.3" fill="none" stroke="#131722" stroke-width="1"/><circle cx="7.3" cy="149.9" r="1.5" fill="#fff" stroke="#131722" stroke-width="1"/><circle cx="9.8" cy="135.2" r="1.5" fill="#fff" stroke="#131722" stroke-width="1"/><circle cx="12.6" cy="140.7" r="1.5" fill="#fff" stroke="#131722" stroke-width="1"/><circle cx="19.9" cy="136.3" r="1.5" fill="#fff" stroke="#131722" stroke-width="1"/><circle cx="22" cy="146.3" r="1.5" fill="#fff" stroke="#131722" stroke-width="1"/></svg>
<svg style="left:0;top:0" width="36" height="190" viewBox="0 0 36 190"><path d="M8.8 167.3 H23 M5.9 175.6 H23 M8.8 180.2 H23" stroke="#131722" stroke-width="1" fill="none"/><circle cx="7.3" cy="167.3" r="1.6" fill="#fff" stroke="#131722" stroke-width="1"/><circle cx="7.3" cy="180.2" r="1.6" fill="#fff" stroke="#131722" stroke-width="1"/><path d="M13.2 169.4 V173.2 H16.2" fill="none" stroke="#131722" stroke-width="1.1"/></svg>
<svg style="left:0;top:0" width="36" height="220" viewBox="0 0 36 220"><path d="M5.9 210.8 Q7.6 203.2 12.4 202.2 Q16.8 203.4 16.2 208 Q14.6 210.8 5.9 210.8 Z" fill="none" stroke="#131722" stroke-width="1" stroke-linejoin="round"/><path d="M17.6 199.6 Q19.4 204.6 25 198" fill="none" stroke="#131722" stroke-width="1"/></svg>
<svg style="left:7.5px;top:227px" width="14" height="15" viewBox="0 0 14 15"><path d="M0.8 3 V0.8 H13.2 V3 M7 0.8 V14 M4.4 14 H9.6" fill="none" stroke="#131722" stroke-width="1"/></svg>
<svg style="left:5.2px;top:256.4px" width="18" height="18" viewBox="0 0 18 18"><circle cx="9" cy="9" r="8.4" fill="none" stroke="#131722" stroke-width="1"/><circle cx="6.8" cy="7" r="0.9" fill="#131722"/><circle cx="11.4" cy="7" r="0.9" fill="#131722"/><path d="M6 10.8 Q9 13.8 12 10.8" fill="none" stroke="#131722" stroke-width="1"/></svg>
<div class="abs" style="left:0px;top:284.8px;width:29px;height:1px;background:#e0e3eb"></div>
<svg style="left:4px;top:296px" width="22" height="20" viewBox="0 0 22 20"><path d="M1.2 15 L15.4 1.2 L20 5.8 L5.8 19.2 Z" fill="none" stroke="#131722" stroke-width="1" stroke-linejoin="round"/><path d="M4 12.4 L6 14.4 M6.4 10 L8.4 12 M8.8 7.6 L10.8 9.6 M11.2 5.2 L13.2 7.2 M13.6 2.8 L15.6 4.8" stroke="#131722" stroke-width="1"/></svg>
<svg style="left:5.6px;top:328.6px" width="18" height="18" viewBox="0 0 18 18"><circle cx="7.4" cy="7.4" r="6.4" fill="none" stroke="#131722" stroke-width="1"/><path d="M12 12 L15.4 15.4 M7.4 4.6 V10.2 M4.6 7.4 H10.2" stroke="#131722" stroke-width="1"/></svg>
<div class="abs" style="left:0px;top:356.8px;width:29px;height:1px;background:#e0e3eb"></div>
<svg style="left:7.6px;top:369.5px" width="15" height="17" viewBox="0 0 15 17"><path d="M1 16 V7 A6 6 0 0 1 13.6 7 V16 H9.8 V7.4 A2.4 2.4 0 0 0 4.8 7.4 V16 Z M1 12.8 H4.8 M9.8 12.8 H13.6" fill="none" stroke="#131722" stroke-width="1"/></svg>
<svg style="left:5px;top:399px" width="21" height="20" viewBox="0 0 21 20"><path d="M1.4 13.6 L11.4 2.4 Q13 1 14.6 2.4 L15.6 3.4 Q17 5 15.6 6.6 L7 15.2 L1 16.4 Z M9.8 4.2 L13.8 8.2" fill="none" stroke="#131722" stroke-width="1" stroke-linejoin="round"/><rect x="13.4" y="13.4" width="6" height="4.8" rx="0.8" fill="#fff" stroke="#131722" stroke-width="1"/><path d="M14.6 13.4 V11.8 Q14.6 10.2 16.4 10.2 Q18.2 10.2 18.2 11.8" fill="none" stroke="#131722" stroke-width="1"/></svg>
<svg style="left:7px;top:430px" width="16" height="17" viewBox="0 0 16 17"><rect x="1.4" y="7.6" width="13" height="8.4" rx="1.4" fill="none" stroke="#131722" stroke-width="1"/><path d="M4.4 7.6 V4.4 Q4.4 1.2 7.8 1.2 Q11.2 1.2 11.4 4" fill="none" stroke="#131722" stroke-width="1"/><rect x="6.8" y="10.6" width="2.2" height="2.2" fill="#131722"/></svg>
<svg style="left:4px;top:458px" width="22" height="20" viewBox="0 0 22 20"><path d="M2 8.6 Q5.6 3 9.8 3 Q14 3 17.6 8.6 Q14 14 9.8 14 Q5.6 14 2 8.6 Z" fill="none" stroke="#131722" stroke-width="1"/><circle cx="9.8" cy="8.4" r="2.9" fill="none" stroke="#131722" stroke-width="1"/><path d="M11.6 19 L15.4 15.4 L16.8 16.8 L19.4 14.6 M11.6 19 L14.2 18.4 L12.8 16.8 Z" fill="none" stroke="#131722" stroke-width="0.9"/></svg>
<div class="abs" style="left:1px;top:487px;width:27.5px;height:27px;border-radius:4px;background:#2a2a2e"></div>
<svg style="left:6px;top:492.2px" width="18" height="17" viewBox="0 0 18 17"><path d="M7.4 5.6 L10.2 2.8 Q12.6 0.6 15 2.8 Q17.2 5.2 15 7.6 L12.8 9.8 M10.6 11.4 L7.8 14.2 Q5.4 16.4 3 14.2 Q0.8 11.8 3 9.4 L5.2 7.2 M6.2 11 L11.8 5.6" fill="none" stroke="#e4e4e6" stroke-width="1" stroke-linecap="round"/></svg>
<div class="abs" style="left:0px;top:520.8px;width:29px;height:1px;background:#e0e3eb"></div>
<svg style="left:7px;top:532px" width="16" height="18" viewBox="0 0 16 18"><path d="M1 3.6 H15 M5.4 3.4 V1.8 Q5.4 1 6.2 1 H9.8 Q10.6 1 10.6 1.8 V3.4 M2.8 3.8 L3.6 15.6 Q3.8 17 5.2 17 H10.8 Q12.2 17 12.4 15.6 L13.2 3.8" fill="none" stroke="#131722" stroke-width="1"/></svg>

<!-- RIGHT TOOLBAR -->
<svg style="left:1002.2px;top:41px" width="16" height="19" viewBox="0 0 16 19"><path d="M1 1 H14.8 V17.6 L7.9 14.2 L1 17.6 Z M4 5 H11.8 M4 8 H11.8 M4 11 H11.8" fill="none" stroke="#131722" stroke-width="1"/></svg>
<svg style="left:999px;top:72px" width="26" height="26" viewBox="0 0 26 26"><circle cx="10.2" cy="15" r="8.2" fill="none" stroke="#131722" stroke-width="1"/><path d="M11.2 10.6 V16 H7.6 M1.6 7.6 L5 4.4" fill="none" stroke="#131722" stroke-width="1"/><circle cx="18" cy="5.6" r="5.8" fill="#f23645" stroke="#fff" stroke-width="0.8"/></svg>
<div class="t" style="left:1014.9px;top:73.6px;font-size:8px;color:#fff;font-weight:bold">1</div>
<svg style="left:999px;top:115px" width="20" height="18" viewBox="0 0 20 18"><path d="M10 1 L18.8 6.4 L10 11.8 L1.2 6.4 Z M1.2 10.6 L10 16 L18.8 10.6" fill="none" stroke="#131722" stroke-width="1" stroke-linejoin="round"/></svg>
<svg style="left:999.5px;top:151.5px" width="22" height="20" viewBox="0 0 22 20"><path d="M2.4 1 H13.2 Q14.6 1 14.6 2.4 V9.6 Q14.6 11 13.2 11 H5.6 L1 14.6 V2.4 Q1 1 2.4 1 Z M16.8 5 H18.4 Q19.8 5 19.8 6.4 V18.4 L16 15 H8.4 Q7 15 7 13.6 V12.8" fill="none" stroke="#131722" stroke-width="1" stroke-linejoin="round"/></svg>
<svg style="left:998.6px;top:320.3px" width="23" height="23" viewBox="0 0 23 23"><circle cx="11.5" cy="11.5" r="10.6" fill="none" stroke="#131722" stroke-width="1"/><circle cx="11.5" cy="11.5" r="6" fill="none" stroke="#131722" stroke-width="1"/><circle cx="11.5" cy="11.5" r="1.8" fill="#131722"/><path d="M11.5 11.5 L17.2 5.2" stroke="#131722" stroke-width="1"/></svg>
<svg style="left:1000.2px;top:357px" width="19" height="21" viewBox="0 0 19 21"><path d="M9.5 1.2 L14.4 8 L9.5 11.4 L4.6 8 Z M4.4 11 L1.2 19 H17.8 L14.6 11" fill="none" stroke="#131722" stroke-width="1" stroke-linejoin="round"/></svg>
<svg style="left:1000px;top:393px" width="19" height="19" viewBox="0 0 19 19"><rect x="1" y="2.8" width="17" height="15.2" rx="2.4" fill="none" stroke="#131722" stroke-width="1"/><path d="M1 7.4 H18 M5.4 0.6 V4.4 M13.6 0.6 V4.4" stroke="#131722" stroke-width="1"/></svg>
<svg style="left:1000px;top:430px" width="19" height="19" viewBox="0 0 19 19"><path d="M1.4 11.6 A6 6 0 0 1 7.4 17.6 M1.4 6.8 A10.8 10.8 0 0 1 12.2 17.6 M1.4 2 A15.6 15.6 0 0 1 17 17.6" fill="none" stroke="#131722" stroke-width="1"/><circle cx="2.4" cy="16.6" r="1.4" fill="none" stroke="#131722" stroke-width="1"/></svg>
<svg style="left:1000.4px;top:465.4px" width="20" height="23" viewBox="0 0 20 23"><path d="M1.6 16.8 Q3.8 15 3.8 11.6 V8 Q3.8 1.4 10 1.4 Q16.2 1.4 16.2 8 V11.6 Q16.2 15 18.4 16.8 V17.8 H1.6 Z M7.6 19.4 Q10 22.2 12.4 19.4" fill="none" stroke="#131722" stroke-width="1" stroke-linejoin="round"/></svg>
<div class="abs" style="left:996.8px;top:499.4px;width:27.6px;height:27.6px;border-radius:50%;background:#2a2a2e"></div>
<svg style="left:1003.6px;top:506.2px" width="14" height="14" viewBox="0 0 14 14"><g fill="#fff"><rect x="0.4" y="0.4" width="3" height="3"/><rect x="5.5" y="0.4" width="3" height="3"/><rect x="10.6" y="0.4" width="3" height="3"/><rect x="0.4" y="5.5" width="3" height="3"/><rect x="5.5" y="5.5" width="3" height="3"/><rect x="10.6" y="5.5" width="3" height="3"/><rect x="0.4" y="10.6" width="3" height="3"/><rect x="5.5" y="10.6" width="3" height="3"/><rect x="10.6" y="10.6" width="3" height="3"/></g></svg>
<div class="abs" style="left:997px;top:537.4px;width:27px;height:1px;background:#e0e3eb"></div>
<svg style="left:998.6px;top:550px" width="23" height="23" viewBox="0 0 23 23"><circle cx="11.5" cy="11.5" r="10.6" fill="none" stroke="#131722" stroke-width="1"/><path d="M8 8.6 Q8 5.2 11.5 5.2 Q15 5.2 15 8.4 Q15 10.4 13 11.6 Q11.5 12.4 11.5 14.4" fill="none" stroke="#131722" stroke-width="1"/><circle cx="11.5" cy="17.4" r="1" fill="#131722"/></svg>

</div></body></html>
